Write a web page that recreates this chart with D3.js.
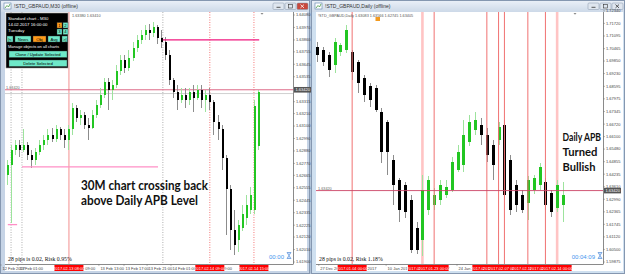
<!DOCTYPE html>
<html><head><meta charset="utf-8">
<script src="https://cdn.jsdelivr.net/npm/d3@7"></script>
<style>html,body{margin:0;padding:0;background:#b3c4d8;overflow:hidden}</style>
</head><body>
<svg id="c" width="625" height="274"></svg>
<script>
// ---------- M30 chart data (left) ----------
const m30Open  = [1.6267,1.6276,1.6289,1.6293,1.6289,1.6293,1.6284,1.6280,1.6287,1.6293,1.6298,1.6302,1.6299,1.6307,1.6302,1.6298,1.6307,1.6326,1.6317,1.6320,1.6311,1.6308,1.6320,1.6329,1.6337,1.6349,1.6342,1.6346,1.6359,1.6368,1.6361,1.6370,1.6379,1.6386,1.6390,1.6395,1.6392,1.6397,1.6388,1.6384,1.6373,1.6351,1.6340,1.6333,1.6337,1.6333,1.6340,1.6335,1.6342,1.6333,1.6337,1.6331,1.6314,1.6307,1.6282,1.6254,1.6218,1.6209,1.6220,1.6229,1.6236,1.6236,1.6292];
const m30High  = [1.6280,1.6293,1.6298,1.6298,1.6307,1.6296,1.6289,1.6291,1.6298,1.6302,1.6307,1.6308,1.6311,1.6309,1.6307,1.6311,1.6330,1.6329,1.6324,1.6322,1.6317,1.6324,1.6333,1.6344,1.6352,1.6352,1.6351,1.6364,1.6373,1.6373,1.6377,1.6384,1.6390,1.6395,1.6399,1.6400,1.6402,1.6399,1.6395,1.6389,1.6377,1.6352,1.6346,1.6344,1.6344,1.6344,1.6346,1.6346,1.6346,1.6342,1.6344,1.6333,1.6320,1.6311,1.6284,1.6258,1.6236,1.6227,1.6240,1.6249,1.6256,1.6333,1.6342];
const m30Low   = [1.6258,1.6224,1.6284,1.6283,1.6287,1.6280,1.6273,1.6276,1.6284,1.6289,1.6293,1.6296,1.6296,1.6298,1.6291,1.6289,1.6302,1.6314,1.6311,1.6307,1.6298,1.6307,1.6317,1.6326,1.6335,1.6324,1.6333,1.6344,1.6355,1.6357,1.6359,1.6367,1.6375,1.6382,1.6386,1.6386,1.6389,1.6382,1.6379,1.6368,1.6346,1.6335,1.6324,1.6330,1.6326,1.6329,1.6322,1.6333,1.6326,1.6322,1.6324,1.6302,1.6298,1.6271,1.6214,1.6201,1.6196,1.6199,1.6217,1.6223,1.6232,1.6232,1.6289];
const m30Close = [1.6276,1.6289,1.6293,1.6289,1.6293,1.6284,1.6280,1.6287,1.6293,1.6298,1.6302,1.6299,1.6307,1.6302,1.6298,1.6307,1.6326,1.6317,1.6320,1.6311,1.6308,1.6320,1.6329,1.6337,1.6349,1.6342,1.6346,1.6359,1.6368,1.6361,1.6370,1.6379,1.6386,1.6390,1.6395,1.6392,1.6397,1.6388,1.6384,1.6373,1.6351,1.6340,1.6333,1.6337,1.6333,1.6340,1.6335,1.6342,1.6333,1.6337,1.6331,1.6314,1.6307,1.6282,1.6254,1.6218,1.6205,1.6223,1.6232,1.6240,1.6249,1.6328,1.6340];
const m30PriceTicks = ["1.64080","1.63970","1.63860","1.63755","1.63645","1.63535","1.63425","1.63315","1.63210","1.63100","1.62990","1.62880","1.62770","1.62665","1.62555","1.62445","1.62335","1.62225","1.62120","1.62010","1.61900"];
const m30TimeLabels = ["12 Feb 2017","13 Feb 01:00","13 Feb 09:00","13 Feb 13:00","13 Feb 17:00","13 Feb 21:00","14 Feb 01:00","14 Feb 09:00"];
const m30TimeIdx    = [-1.5, 2.7, 15.6, 22.7, 28.9, 34.6, 40.5, 49.4];
const m30RedLabels  = ["2017.02.13 08:00","2017.02.14 09:00","2017.02.14 15:00"];
const m30RedIdx     = [15.3, 50.1, 61];
const m30GrayDotIdx = [1, 3.7, 38.5];
const m30PinkIdx    = [15.3];
const m30RedDotIdx  = [50.1, 61];
// horizontal objects: [price, fromIdx, toIdx]
const m30MagentaLine = [1.6386, 38.5, 62.3];
const m30LightPinkLine = [1.6274, 3.7, 37.3];
const m30SmallPink = [1.6223, 0.2, 2.5];
const apbLevel = 1.6342;
const m30Bid = 1.6340;

// ---------- Daily chart data (right) ----------
const dOpen  = [1.7055,1.7040,1.7015,1.6965,1.7030,1.7040,1.7030,1.6980,1.6901,1.6861,1.6851,1.6732,1.6683,1.6494,1.6395,1.6370,1.6295,1.6156,1.6097,1.6246,1.6271,1.6295,1.6320,1.6345,1.6444,1.6469,1.6583,1.6643,1.6668,1.6618,1.6568,1.6593,1.6668,1.6494,1.6370,1.6320,1.6280,1.6345,1.6370,1.6385,1.6330,1.6256,1.6271];
const dHigh  = [1.7080,1.7055,1.7030,1.7099,1.7075,1.7164,1.7040,1.6990,1.6916,1.6876,1.6866,1.6752,1.6692,1.6519,1.6405,1.6385,1.6320,1.6186,1.6419,1.6414,1.6355,1.6395,1.6395,1.6509,1.6568,1.6692,1.6717,1.6732,1.6702,1.6653,1.6593,1.6683,1.6692,1.6519,1.6395,1.6345,1.6414,1.6419,1.6479,1.6405,1.6345,1.6395,1.6385];
const dLow   = [1.6980,1.6960,1.6906,1.6926,1.7010,1.7025,1.6891,1.6826,1.6782,1.6757,1.6732,1.6479,1.6419,1.6271,1.6186,1.6206,1.6032,1.6027,1.6017,1.6221,1.6246,1.6271,1.6305,1.6335,1.6434,1.6434,1.6563,1.6618,1.6568,1.6484,1.6395,1.6568,1.6295,1.6221,1.6236,1.6231,1.6196,1.6325,1.6345,1.6246,1.6211,1.6236,1.6186];
const dClose = [1.7015,1.6980,1.6941,1.7080,1.7065,1.7139,1.6931,1.6876,1.6817,1.6792,1.6742,1.6534,1.6534,1.6370,1.6246,1.6236,1.6047,1.6047,1.6345,1.6395,1.6320,1.6370,1.6360,1.6484,1.6534,1.6618,1.6683,1.6692,1.6618,1.6519,1.6469,1.6658,1.6320,1.6246,1.6271,1.6246,1.6395,1.6405,1.6459,1.6271,1.6236,1.6370,1.6320];
const dPriceTicks = ["1.72340","1.71720","1.71095","1.70465","1.69850","1.69230","1.68595","1.67975","1.67345","1.66720","1.66100","1.65480","1.64855","1.64235","1.63610","1.62990","1.62365","1.61745","1.61120","1.60500","1.59875"];
const dTimeLabels = ["27 Dec 2016","3 Jan 2017","10 Jan 2017","17 Jan 2017","24 Jan 2017"];
const dTimeIdx    = [0.3, 6.5, 11.8, 18.6, 23.9];
const dRedLabels  = ["2017.01.04 00:00","2017.01.19 00:00","2017.01.23 00:00","2017.02.02 00:00","2017.02.06 00:00","2017.02.07 00:00","2017.02.10 00:00","2017.02.13 00:00","2017.02.14 00:00"];
const dRedIdx     = [6, 18, 20, 29, 31, 32, 36, 39, 41];
const dRedLineIdx = [6, 20, 29, 31, 32, 36, 39];
const dPinkLineIdx = [18, 41];

const svg = d3.select('#c');
const SANS = "'Liberation Sans', Arial, sans-serif";
const defs = svg.append('defs');
const tb = defs.append('linearGradient').attr('id','tb').attr('x1',0).attr('y1',0).attr('x2',0).attr('y2',1);
tb.append('stop').attr('offset','0%').attr('stop-color','#e9eff7');
tb.append('stop').attr('offset','100%').attr('stop-color','#cdd9e8');

function windowChrome(wx, ww, title, active) {
  const g = svg.append('g');
  g.append('rect').attr('x', wx+0.5).attr('y', 0.5).attr('width', ww-1).attr('height', 273)
    .attr('fill', active ? '#c6d4e6' : '#cfe0f0').attr('stroke', '#8597b0');
  g.append('rect').attr('x', wx+1).attr('y', 1).attr('width', ww-2).attr('height', 11).attr('fill', 'url(#tb)');
  g.append('rect').attr('x', wx+4).attr('y', 3).attr('width', 7).attr('height', 6).attr('fill', '#fff').attr('stroke', '#5a7fa8').attr('stroke-width', 0.6);
  g.append('path').attr('d', `M${wx+5},8 L${wx+7},5.5 L${wx+8.5},7 L${wx+10},4`).attr('stroke', '#2a8a2a').attr('fill', 'none').attr('stroke-width', 0.7);
  g.append('text').attr('x', wx+14).attr('y', 8.3).attr('font-family', SANS).attr('font-size', 5).attr('fill', '#333').text(title);
  const bx = wx + ww - 37;
  const cols = active ? ['#dfe6ef','#dfe6ef','#c9483c'] : ['#dfe6ef','#dfe6ef','#dfe6ef'];
  [0,1,2].forEach(k => {
    g.append('rect').attr('x', bx + k*12).attr('y', 3).attr('width', 11).attr('height', 6.5).attr('rx', 1)
      .attr('fill', cols[k]).attr('stroke', '#8797aa').attr('stroke-width', 0.5);
  });
  const ic = active ? ['#333','#333','#fff'] : ['#333','#333','#333'];
  g.append('line').attr('x1', bx+3.5).attr('x2', bx+7.5).attr('y1', 7.3).attr('y2', 7.3).attr('stroke', ic[0]).attr('stroke-width', 0.8);
  g.append('rect').attr('x', bx+15.5).attr('y', 4.5).attr('width', 4).attr('height', 3.5).attr('fill', 'none').attr('stroke', ic[1]).attr('stroke-width', 0.6);
  g.append('path').attr('d', `M${bx+27.5},4.6 l3.5,3.3 M${bx+31},4.6 l-3.5,3.3`).attr('stroke', ic[2]).attr('stroke-width', 0.8);
  return g;
}

function panel(o) {
  const g = svg.append('g');
  const cx0 = o.cx0, cx1 = o.cx1, ax = o.ax, by = 264;
  g.append('rect').attr('x', cx0).attr('y', 12).attr('width', cx1-cx0).attr('height', 259).attr('fill', '#fff');
  const x = d3.scaleLinear().domain([0, o.open.length-1]).range(o.xr);
  const y = d3.scaleLinear().domain(o.ydom).range(o.yr);
  const clip = 'clip'+o.id;
  defs.append('clipPath').attr('id', clip).append('rect').attr('x', cx0).attr('y', 12).attr('width', ax-cx0).attr('height', by-12);
  const pg = g.append('g').attr('clip-path', `url(#${clip})`);
  o.back(pg, x, y);
  const idx = d3.range(o.open.length);
  const cg = pg.append('g').attr('shape-rendering', 'crispEdges');
  idx.forEach(i => {
    const up = o.close[i] >= o.open[i];
    const xi = Math.round(x(i));
    cg.append('line').attr('x1', xi+0.5).attr('x2', xi+0.5).attr('y1', y(o.high[i])).attr('y2', y(o.low[i]))
      .attr('stroke', up ? '#9de39d' : '#8c8c8c').attr('stroke-width', 1);
    const y0 = y(Math.max(o.open[i], o.close[i])), y1 = y(Math.min(o.open[i], o.close[i]));
    cg.append('rect').attr('x', xi + 0.5 - o.bw/2).attr('y', y0).attr('width', o.bw).attr('height', Math.max(1, y1-y0))
      .attr('fill', up ? '#22c622' : '#000');
  });
  o.front(pg, x, y);
  g.append('line').attr('x1', ax+0.5).attr('x2', ax+0.5).attr('y1', 12).attr('y2', by).attr('stroke', '#8a8a8a');
  g.append('line').attr('x1', cx0).attr('x2', ax+0.5).attr('y1', by+0.5).attr('y2', by+0.5).attr('stroke', '#8a8a8a');
  o.ticks.forEach(t => {
    const yy = y(+t);
    g.append('line').attr('x1', ax).attr('x2', ax+2).attr('y1', yy).attr('y2', yy).attr('stroke', '#777').attr('stroke-width', 0.5);
    g.append('text').attr('x', ax+3).attr('y', yy+1.4).attr('font-family', SANS).attr('font-size', 4).attr('fill', '#444').text(t);
  });
  const ly = y(o.level);
  g.append('rect').attr('x', ax+1).attr('y', ly-2.8).attr('width', 17).attr('height', 5.6).attr('fill', '#555');
  g.append('text').attr('x', ax+2.5).attr('y', ly+1.5).attr('font-family', SANS).attr('font-size', 4).attr('fill', '#fff').text(o.level.toFixed(5));
  o.tLabels.forEach((t, k) => {
    const xx = x(o.tIdx[k]);
    g.append('line').attr('x1', xx).attr('x2', xx).attr('y1', by).attr('y2', by+2).attr('stroke', '#777').attr('stroke-width', 0.5);
    g.append('text').attr('x', xx+1.5).attr('y', 269.5).attr('font-family', SANS).attr('font-size', 4).attr('fill', '#444').text(t);
  });
  o.rLabels.forEach((t, k) => {
    const xx = x(o.rIdx[k]);
    g.append('rect').attr('x', xx-14.5).attr('y', 265).attr('width', 29).attr('height', 6).attr('fill', '#f00');
    g.append('text').attr('x', xx).attr('y', 269.6).attr('text-anchor', 'middle').attr('font-family', SANS).attr('font-size', 4).attr('fill', '#fff').text(t);
  });
  g.append('text').attr('x', cx0+3).attr('y', 260.5).attr('font-family', "'Liberation Serif', serif").attr('font-size', 5.8).attr('fill', '#111').text(o.risk);
  g.append('text').attr('x', o.timerX).attr('y', 259).attr('text-anchor', 'end').attr('font-family', SANS).attr('font-size', 6).attr('fill', '#3f95ee').text(o.timer);
  const hx = o.timerX + 3;
  g.append('path').attr('d', `M${hx},252.5 h4 l-2,3 l2,3 h-4 l2,-3 z`).attr('fill', '#cfe3ff').attr('stroke', '#3f7fd0').attr('stroke-width', 0.6);
  g.append('path').attr('d', `M${o.shiftX-1.5},13 h3 l-1.5,1.8 z`).attr('fill', '#888');
  return {g, x, y};
}

// ---------------- left window ----------------
windowChrome(0, 310, '!STD_GBPAUD,M30 (offline)', true);
const L = panel({
  id: 'L', cx0: 5, cx1: 307, ax: 293,
  open: m30Open, high: m30High, low: m30Low, close: m30Close,
  xr: [7, 258], ydom: [1.61900, 1.64080], yr: [262, 15], bw: 2,
  ticks: m30PriceTicks, level: apbLevel,
  tLabels: m30TimeLabels, tIdx: m30TimeIdx, rLabels: m30RedLabels, rIdx: m30RedIdx,
  risk: '28 pips is 0.02, Risk  0.95%', timer: '00:00', timerX: 284, shiftX: 262,
  back: (pg, x, y) => {
    m30GrayDotIdx.forEach(i => pg.append('line').attr('x1', x(i)).attr('x2', x(i)).attr('y1', 12).attr('y2', 264)
      .attr('stroke', '#9a9a9a').attr('stroke-dasharray', '1,1.5').attr('stroke-width', 0.8));
    m30PinkIdx.forEach(i => pg.append('line').attr('x1', x(i)).attr('x2', x(i)).attr('y1', 12).attr('y2', 264)
      .attr('stroke', '#f28f8f').attr('stroke-width', 1));
    m30RedDotIdx.forEach(i => pg.append('line').attr('x1', x(i)).attr('x2', x(i)).attr('y1', 12).attr('y2', 264)
      .attr('stroke', '#f25555').attr('stroke-dasharray', '1,1.5').attr('stroke-width', 0.8));
    pg.append('line').attr('x1', 5).attr('x2', 293).attr('y1', y(apbLevel)).attr('y2', y(apbLevel)).attr('stroke', '#d9587a').attr('stroke-width', 0.9);
    pg.append('line').attr('x1', 5).attr('x2', 293).attr('y1', y(m30Bid)+1.5).attr('y2', y(m30Bid)+1.5).attr('stroke', '#c4c4c4').attr('stroke-width', 0.8);
    pg.append('text').attr('x', 6).attr('y', y(apbLevel)-0.8).attr('font-family', SANS).attr('font-size', 3.8).attr('fill', '#666').text(apbLevel.toFixed(5));
  },
  front: (pg, x, y) => {
    const hl = (a, c, w) => pg.append('line').attr('x1', x(a[1])).attr('x2', x(a[2])).attr('y1', y(a[0])).attr('y2', y(a[0])).attr('stroke', c).attr('stroke-width', w);
    hl(m30MagentaLine, '#f0187f', 1.3);
    hl(m30LightPinkLine, '#ff8fc6', 1.3);
    hl(m30SmallPink, '#ff8fc6', 1.3);
  }
});
L.g.append('text').attr('x', 72).attr('y', 17).attr('font-family', SANS).attr('font-size', 3.8).attr('fill', '#555')
  .text('1.63380 1.63410');

// control panel overlay
(function(){
  const g = L.g.append('g');
  g.append('rect').attr('x', 6).attr('y', 13).attr('width', 62).attr('height', 55).attr('fill', '#000').attr('stroke', '#999').attr('stroke-width', 0.6);
  const t = (s, xx, yy, c, fs, anchor) => g.append('text').attr('x', xx).attr('y', yy).attr('font-family', SANS).attr('font-size', fs || 4.3)
    .attr('fill', c || '#fff').attr('text-anchor', anchor || 'start').text(s);
  t('Standard chart - M30', 8, 19.5);
  t('14.02.2017   16:00:00', 8, 26);
  t('Tuesday', 8, 32.3);
  const btn = (xx, yy, w, h, fill, label) => {
    g.append('rect').attr('x', xx).attr('y', yy).attr('width', w).attr('height', h).attr('fill', fill).attr('stroke', '#333').attr('stroke-width', 0.4);
    t(label, xx + w/2, yy + h/2 + 1.5, '#000', 4.2, 'middle');
  };
  btn(57, 22.5, 5, 5.5, '#ff9b1a', '1'); btn(63, 22.5, 5, 5.5, '#6ee8c8', '2');
  btn(57, 29, 5, 5.5, '#6ee8c8', '3'); btn(63, 29, 5, 5.5, '#6ee8c8', '4');
  btn(7, 36, 6, 6, '#6ee8c8', '|<'); btn(15, 36, 16, 6, '#6ee8c8', 'News'); btn(33, 36, 13, 6, '#ff9b1a', 'Obj');
  btn(48, 36, 12, 6, '#6ee8c8', 'Avg'); btn(62, 36, 5.5, 6, '#6ee8c8', '>|');
  t('Manage objects on all charts', 8, 47.5, '#fff', 4);
  btn(9, 51, 58, 6.5, '#6ee8c8', 'Clone / Update Selected');
  btn(9, 60, 58, 6.5, '#6ee8c8', 'Delete Selected');
})();
[['30M chart crossing back', 189.5, 127], ['above Daily APB Level', 205, 117]].forEach(d => {
  L.g.append('text').attr('x', 81).attr('y', d[1]).attr('font-family', 'Lato, sans-serif').attr('font-weight', 700)
    .attr('font-size', 12.3).attr('fill', '#111').attr('textLength', d[2]).attr('lengthAdjust', 'spacingAndGlyphs').text(d[0]);
});

// ---------------- right window ----------------
windowChrome(311, 314, '!STD_GBPAUD,Daily (offline)', false);
const R = panel({
  id: 'R', cx0: 316, cx1: 623, ax: 603,
  open: dOpen, high: dHigh, low: dLow, close: dClose,
  xr: [317, 563], ydom: [1.59875, 1.72335], yr: [262, 11], bw: 3,
  ticks: dPriceTicks, level: apbLevel,
  tLabels: dTimeLabels, tIdx: dTimeIdx, rLabels: dRedLabels, rIdx: dRedIdx,
  risk: '28 pips is 0.02, Risk  1.18%', timer: '00:04:09', timerX: 595, shiftX: 575,
  back: (pg, x, y) => {
    dPinkLineIdx.forEach(i => pg.append('line').attr('x1', x(i)).attr('x2', x(i)).attr('y1', 12).attr('y2', 264)
      .attr('stroke', '#ffc4c4').attr('stroke-width', 2.6));
  },
  front: (pg, x, y) => {
    dRedLineIdx.forEach(i => pg.append('line').attr('x1', x(i)).attr('x2', x(i)).attr('y1', 12).attr('y2', 264)
      .attr('stroke', '#f07272').attr('stroke-width', 1));
    pg.append('line').attr('x1', 316).attr('x2', 603).attr('y1', y(apbLevel)).attr('y2', y(apbLevel)).attr('stroke', '#cc4466').attr('stroke-width', 0.9);
    pg.append('text').attr('x', 318).attr('y', y(apbLevel)-0.8).attr('font-family', SANS).attr('font-size', 3.8).attr('fill', '#666').text(apbLevel.toFixed(5));
  }
});
R.g.append('text').attr('x', 318).attr('y', 17).attr('font-family', SANS).attr('font-size', 3.8).attr('fill', '#555')
  .text('!STD_GBPAUD,Daily  1.63083 1.63566 1.62745 1.63405');
R.g.append('rect').attr('x', 375.5).attr('y', 17).attr('width', 4.5).attr('height', 4).attr('fill', '#f39a1e');
[['Daily APB', 141, 38.5], ['Turned', 156, 35], ['Bullish', 170.5, 33]].forEach(d => {
  R.g.append('text').attr('x', 562.5).attr('y', d[1]).attr('font-family', 'Lato, sans-serif').attr('font-weight', 700)
    .attr('font-size', 12).attr('fill', '#111').attr('textLength', d[2]).attr('lengthAdjust', 'spacingAndGlyphs').text(d[0]);
});
</script>
</body></html>
